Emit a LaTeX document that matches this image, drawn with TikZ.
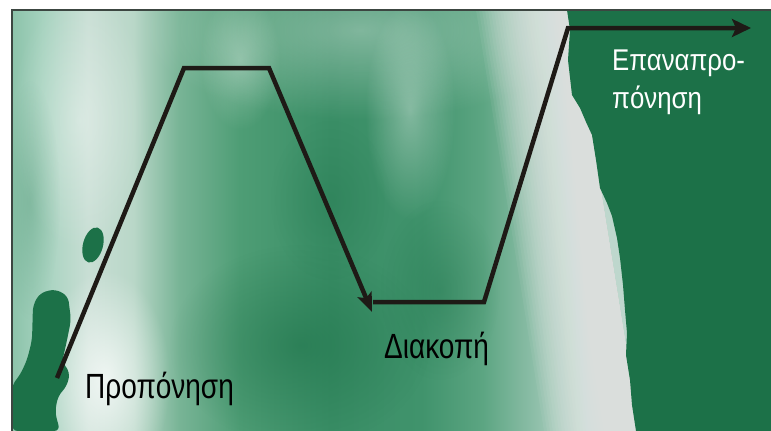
\documentclass[tikz,border=0pt]{standalone}
\usepackage{fontspec}
\setmainfont{Liberation Sans}
\newfontfamily\lblfont{Liberation Sans}[FakeStretch=0.8]
\newfontfamily\toplblfont{Liberation Sans}[FakeStretch=0.86]
\usetikzlibrary{arrows.meta,fadings}
\definecolor{darkg}{RGB}{28,113,72}
\definecolor{gA}{RGB}{140,195,170}
\definecolor{gB}{RGB}{165,210,190}
\definecolor{gC}{RGB}{200,222,212}
\definecolor{gD}{RGB}{185,215,200}
\definecolor{gE}{RGB}{120,180,150}
\definecolor{gF}{RGB}{78,157,117}
\definecolor{gG}{RGB}{58,142,102}
\definecolor{gH}{RGB}{64,147,108}
\definecolor{gI}{RGB}{92,165,130}
\definecolor{gJ}{RGB}{150,195,175}
\definecolor{gK}{RGB}{190,215,205}
\definecolor{lightg}{RGB}{232,236,234}
\definecolor{framec}{RGB}{60,70,65}
\definecolor{linec}{RGB}{30,26,22}
\pgfdeclarehorizontalshading{bgshade}{100bp}{color(0bp)=(gA); color(25bp)=(gA); color(27bp)=(gB); color(30bp)=(gC); color(33bp)=(gD); color(36bp)=(gE); color(40bp)=(gF); color(46bp)=(gG); color(52bp)=(gH); color(56bp)=(gI); color(60bp)=(gJ); color(63bp)=(gK); color(75bp)=(gK); color(100bp)=(gK)}
\tikzfading[name=softblob, inner color=transparent!0, outer color=transparent!100]
\tikzset{
  lbl/.style={inner sep=0pt, font=\lblfont\fontsize{35}{42}\selectfont, text=black},
  toplbl/.style={inner sep=0pt, font=\toplblfont\fontsize{30}{38}\selectfont, text=white, align=left},
  curve/.style={draw=linec, line width=4.5pt, line join=miter},
  blob/.style={fill=white, path fading=softblob},
  darkblob/.style={fill=darkg, path fading=softblob},
  bandstrip/.style={fill=lightg, opacity=0.07}
}
\begin{document}
\begin{tikzpicture}[x=1pt,y=-1pt]
\useasboundingbox (0,0) rectangle (771,431);
\fill[white] (0,0) rectangle (771,431);
% background
\path[shading=bgshade] (12,10) rectangle (771,431);
\begin{scope}
\clip (12,10) rectangle (771,431);
\fill[blob, opacity=0.35] (360,30) ellipse [x radius=220, y radius=90];
\fill[blob, opacity=0.35] (410,110) ellipse [x radius=45, y radius=110];
\fill[blob, opacity=0.3] (240,60) ellipse [x radius=40, y radius=70];
\fill[blob, opacity=0.75] (105,380) ellipse [x radius=65, y radius=110];
\fill[blob, opacity=0.35] (80,120) ellipse [x radius=70, y radius=130];
\fill[darkblob, opacity=0.55] (300,345) ellipse [x radius=130, y radius=100];
\fill[darkblob, opacity=0.35] (440,290) ellipse [x radius=60, y radius=90];
\fill[darkblob, opacity=0.3] (330,200) ellipse [x radius=60, y radius=80];
\fill[darkblob, opacity=0.2] (30,200) ellipse [x radius=30, y radius=120];
% light band next to the dark region
\foreach \d in {0,3,...,96}
  \fill[bandstrip] (572-\d,10) -- (572,10) -- (640,431) -- (640-\d,431) -- cycle;
% dark region on the right
\fill[darkg] (567,10) -- (570,30) -- (568,60) -- (572,95) -- (580,108) -- (586,122) -- (592,135)
  -- (596,160) -- (600,188) -- (607,203) -- (612,216) -- (617,238) -- (620,258) -- (623,285)
  -- (625,310) -- (627,333) -- (626,355) -- (630,380) -- (632,405) -- (636,431)
  -- (771,431) -- (771,10) -- cycle;
% dark blobs on the left
\fill[darkg, rounded corners=6pt] (12,431) -- (12,385) -- (20,375) -- (27,360) -- (32,340) -- (33,305)
  -- (40,293) -- (55,289) -- (68,296) -- (71,320) -- (66,345) -- (62,362) -- (70,372) -- (67,386)
  -- (58,396) -- (55,412) -- (60,431) -- cycle;
\fill[darkg, rotate around={-15:(93,245)}] (93,245) ellipse [x radius=10, y radius=18];
\end{scope}
% frame
\draw[framec, line width=1.5pt] (12,431) -- (12,10) -- (771,10);
% curve
\coordinate (start) at (57,378);
\coordinate (pk1) at (184,68);
\coordinate (pk2) at (269,68);
\coordinate (tip) at (372,312);
\coordinate (lo1) at (373,302);
\coordinate (lo2) at (484,302);
\coordinate (hi) at (568,28);
\coordinate (fin) at (751,28);
\draw[curve, -{Stealth[length=19pt, width=15pt, inset=4pt]}] (start) -- (pk1) -- (pk2) -- (tip);
\draw[curve, -{Stealth[length=19pt, width=18pt, inset=4pt]}] (lo1) -- (lo2) -- (hi) -- (fin);
% labels
\node[lbl, anchor=base west] (prop) at (85,398) {Προπόνηση};
\node[lbl, anchor=base west] (diak) at (384,358) {Διακοπή};
\node[toplbl, anchor=base west] (epan) at (612,108) {Επαναπρο-\\πόνηση};
\end{tikzpicture}
\end{document}
